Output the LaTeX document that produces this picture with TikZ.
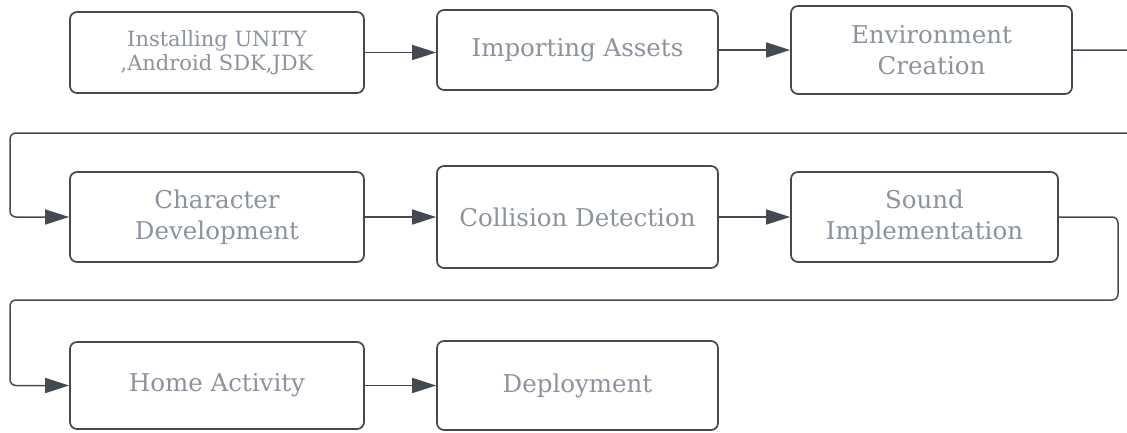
\documentclass[tikz,border=0pt]{standalone}
\usepackage{fontspec}
\setmainfont{DejaVu Serif}
\usetikzlibrary{arrows.meta}
\definecolor{edgec}{HTML}{454A52}
\definecolor{txtc}{HTML}{8C939E}
\tikzset{
  stepbox/.style={draw=edgec, line width=1.7pt, rounded corners=7pt, fill=white,
    text=txtc, align=center, font=\fontsize{24.5}{31}\selectfont, inner sep=0pt},
  smalltext/.style={font=\fontsize{21}{24}\selectfont},
  flow/.style={draw=edgec, line width=1.5pt, rounded corners=6pt,
    -{Triangle[length=24pt,width=15pt]}}
}
\begin{document}
\begin{tikzpicture}[x=1pt,y=-1pt]
\useasboundingbox (0,0) rectangle (1127,432);
\node[stepbox, smalltext, minimum width=294pt, minimum height=81pt] (b1) at (217,52.5) {Installing UNITY\\,Android SDK,JDK};
\node[stepbox, minimum width=281pt, minimum height=80pt] (b2) at (577.5,50) {Importing Assets};
\node[stepbox, minimum width=281pt, minimum height=88pt] (b3) at (931.5,50) {Environment\\Creation};
\node[stepbox, minimum width=294pt, minimum height=90pt] (b4) at (217,217) {Character\\Development};
\node[stepbox, minimum width=281pt, minimum height=102pt] (b5) at (577.5,217) {Collision Detection};
\node[stepbox, minimum width=267pt, minimum height=90pt] (b6) at (924.5,217) {Sound\\Implementation};
\node[stepbox, minimum width=294pt, minimum height=87pt] (b7) at (217,385.5) {Home Activity};
\node[stepbox, minimum width=281pt, minimum height=89pt] (b8) at (577.5,385.5) {Deployment};
\coordinate (r1) at (1140,50);
\coordinate (r2) at (1140,133);
\coordinate (l1) at (10,133);
\coordinate (s1) at (1118,217);
\coordinate (s2) at (1118,300);
\coordinate (l2) at (10,300);
\draw[flow] (b1.east) -- (b1.east -| b2.west);
\draw[flow] (b2) -- (b3);
\draw[flow] (b3.east) -- (r1) -- (r2) -- (l1) |- (b4.west);
\draw[flow] (b4) -- (b5);
\draw[flow] (b5) -- (b6);
\draw[flow] (b6.east) -- (s1) -- (s2) -- (l2) |- (b7.west);
\draw[flow] (b7) -- (b8);
\end{tikzpicture}
\end{document}
